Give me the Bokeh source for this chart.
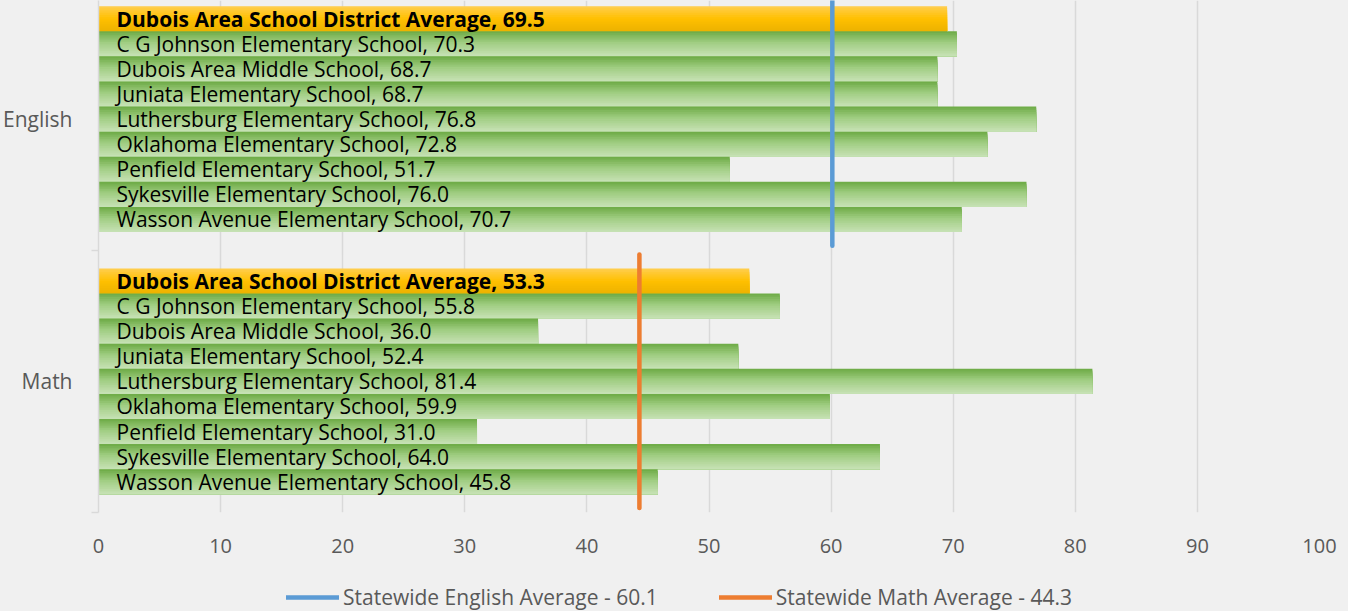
from bokeh.plotting import figure
from bokeh.layouts import column
from bokeh.models import Range1d, FixedTicker, Legend, LegendItem, ColumnDataSource
from bokeh.core.properties import value
from bokeh.embed import file_html
from bokeh.resources import INLINE

# ---------------- data ----------------
subjects = ["Math", "English"]  # bottom to top
schools = [
    "Dubois Area School District Average",
    "C G Johnson Elementary School",
    "Dubois Area Middle School",
    "Juniata Elementary School",
    "Luthersburg Elementary School",
    "Oklahoma Elementary School",
    "Penfield Elementary School",
    "Sykesville Elementary School",
    "Wasson Avenue Elementary School",
]
english_scores = [69.5, 70.3, 68.7, 68.7, 76.8, 72.8, 51.7, 76.0, 70.7]
math_scores = [53.3, 55.8, 36.0, 52.4, 81.4, 59.9, 31.0, 64.0, 45.8]
statewide_english = 60.1
statewide_math = 44.3
x_ticks = [0, 10, 20, 30, 40, 50, 60, 70, 80, 90, 100]

# ---------------- layout helpers ----------------
FONT = "Open Sans"
BG = "#f0f0f0"
PITCH = 10.45
centers = {s: PITCH * (i + 0.5) for i, s in enumerate(subjects)}
scores_by_subject = {"English": english_scores, "Math": math_scores}
statewide_by_subject = {"English": statewide_english, "Math": statewide_math}
line_colors = {"English": "#5b9bd5", "Math": "#ed7d31"}

N = 14
green_stops = [(0.0, (108, 170, 68)), (0.45, (160, 205, 130)), (1.0, (200, 226, 182))]
gold_stops = [(0.0, (255, 206, 80)), (0.5, (255, 192, 0)), (1.0, (236, 178, 0))]


def interp(stops, t):
    for (t0, c0), (t1, c1) in zip(stops[:-1], stops[1:]):
        if t <= t1:
            f = (t - t0) / (t1 - t0)
            return "#%02x%02x%02x" % tuple(int(round(a + (b - a) * f)) for a, b in zip(c0, c1))
    return "#%02x%02x%02x" % stops[-1][1]


# each strip runs from its own top edge down to the bar's bottom; later strips
# cover the lower part so no seams appear
strip = dict(y=[], right=[], h=[], color=[])
lab = dict(y=[], text=[])
lab_b = dict(y=[], text=[])
for subj in subjects:
    yc0 = centers[subj] + 4
    for i, (name, v) in enumerate(zip(schools, scores_by_subject[subj])):
        yc = yc0 - i
        top, bottom = yc + 0.5, yc - 0.5
        stops = gold_stops if i == 0 else green_stops
        for k in range(N):
            t = (k + 0.5) / N
            st = top - k / N
            strip["y"].append((st + bottom) / 2)
            strip["h"].append(st - bottom)
            strip["right"].append(v)
            strip["color"].append(interp(stops, t))
        target = lab_b if i == 0 else lab
        target["y"].append(yc)
        target["text"].append(f"{name}, {v:.1f}")

p = figure(
    frame_width=1221, frame_height=512,
    x_range=Range1d(0, 100), y_range=Range1d(0, 20.4),
    output_backend="svg", toolbar_location=None,
    min_border_left=89, min_border_right=22, min_border_top=0, min_border_bottom=56,
    background_fill_color=BG, border_fill_color=BG,
    outline_line_color=None,
)

p.hbar(y="y", right="right", left=0, height="h", color="color",
       line_color=None, source=ColumnDataSource(strip))

p.text(x=0, y="y", text="text", source=ColumnDataSource(lab), x_offset=18,
       text_baseline="middle", text_font=value(FONT), text_font_size="21px",
       text_color="#000000")
p.text(x=0, y="y", text="text", source=ColumnDataSource(lab_b), x_offset=18,
       text_baseline="middle", text_font=value(FONT), text_font_size="21px",
       text_font_style="bold", text_color="#000000")

for subj in ["English", "Math"]:
    sv = statewide_by_subject[subj]
    c = centers[subj]
    p.segment(x0=[sv], x1=[sv], y0=[c - 5.05], y1=[c + 5.05],
              line_color=line_colors[subj], line_width=4.5, line_cap="round")

# axes
p.xaxis.ticker = FixedTicker(ticks=x_ticks)
p.xaxis.axis_line_color = None
p.xaxis.major_tick_line_color = None
p.xaxis.minor_tick_line_color = None
p.xaxis.major_tick_out = 0
p.xaxis.major_tick_in = 0
p.xaxis.major_label_standoff = 26
p.xaxis.major_label_text_font = FONT
p.xaxis.major_label_text_font_size = "20px"
p.xaxis.major_label_text_color = "#595959"

p.yaxis.ticker = FixedTicker(ticks=[centers[s] for s in subjects],
                             minor_ticks=[0, PITCH, 2 * PITCH])
p.yaxis.major_label_overrides = {centers[s]: s for s in subjects}
p.yaxis.axis_line_color = "#d9d9d9"
p.yaxis.axis_line_width = 1.5
p.yaxis.major_tick_line_color = None
p.yaxis.major_tick_out = 0
p.yaxis.major_tick_in = 0
p.yaxis.minor_tick_line_color = "#d9d9d9"
p.yaxis.minor_tick_line_width = 1.5
p.yaxis.minor_tick_out = 7
p.yaxis.minor_tick_in = 0
p.yaxis.major_label_standoff = 19
p.yaxis.major_label_text_font = FONT
p.yaxis.major_label_text_font_size = "21px"
p.yaxis.major_label_text_color = "#595959"

p.xgrid.ticker = FixedTicker(ticks=x_ticks)
p.xgrid.grid_line_color = "#d9d9d9"
p.xgrid.grid_line_width = 1.5
p.ygrid.grid_line_color = None

# ---------------- legend strip (separate small figure below) ----------------
leg = figure(
    width=1332, height=43, x_range=Range1d(0, 1), y_range=Range1d(0, 1),
    output_backend="svg", toolbar_location=None, x_axis_type=None, y_axis_type=None,
    min_border=0, background_fill_color=BG, border_fill_color=BG, outline_line_color=None,
)
items = []
for subj in ["English", "Math"]:
    sv = statewide_by_subject[subj]
    c = centers[subj]
    # same statewide marks; they fall outside this strip's range, only their legend shows
    r = leg.segment(x0=[sv], x1=[sv], y0=[c - 5.05], y1=[c + 5.05],
                    line_color=line_colors[subj], line_width=4.5, line_cap="round")
    items.append(LegendItem(label=f"Statewide {subj} Average - {sv}", renderers=[r]))

legend = Legend(items=items, orientation="horizontal", location=(188, 0),
                label_text_font=FONT, label_text_font_size="21px",
                label_text_color="#595959", glyph_width=53, glyph_height=20,
                label_standoff=4, spacing=61, padding=0, margin=0,
                background_fill_alpha=0, border_line_color=None)
leg.add_layout(legend, "center")

layout = column(p, leg, spacing=0)

html = file_html(layout, INLINE)
html = html.replace("</head>", "<style>html, body { background: #f0f0f0; }</style></head>", 1)
open("out.html", "w").write(html)
